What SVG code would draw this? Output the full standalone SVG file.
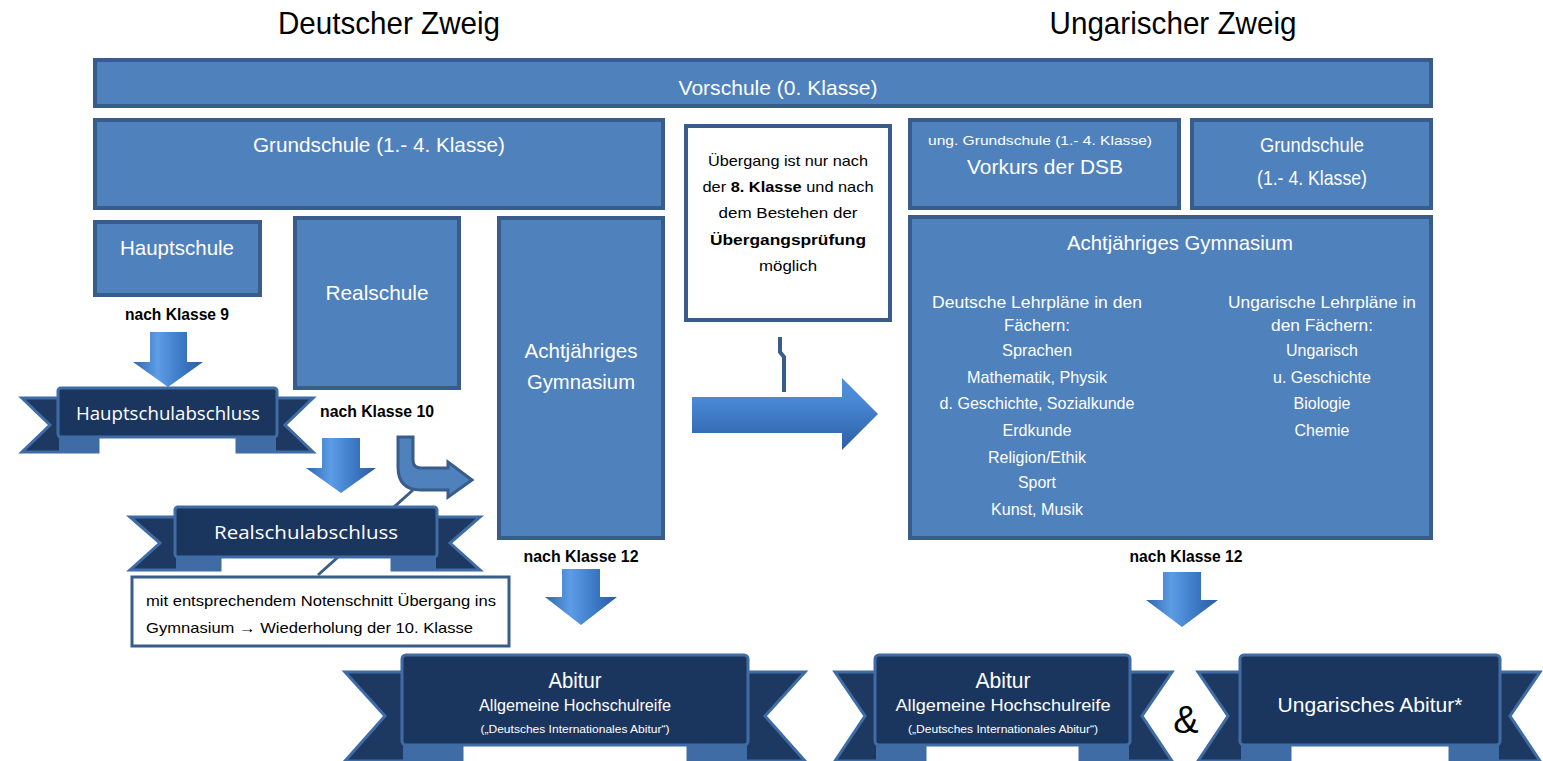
<svg xmlns="http://www.w3.org/2000/svg" width="1543" height="761" viewBox="0 0 1543 761">
<defs>
<style>
.box{fill:#4f81bd;stroke:#385d8a;stroke-width:4}
.wbox{fill:#ffffff;stroke:#385d8a;stroke-width:4}
.rb{fill:#1b365e;stroke:#3f6ca5;stroke-width:3}
.tail{fill:#1d3961;stroke:#3f6ca5;stroke-width:3;stroke-linejoin:miter}
.fold{fill:#3f6ca5}
.t{font-family:"Liberation Sans Narrow","Liberation Sans",Arial,sans-serif;fill:#ffffff;text-anchor:middle}
.k{fill:#000000}
.o{font-family:"Open Sans","Noto Sans",sans-serif;fill:#ffffff;text-anchor:middle}
.line{fill:none;stroke:#385d8a;stroke-width:4}
</style>
<linearGradient id="gd" x1="0" y1="0" x2="1" y2="0">
<stop offset="0" stop-color="#2f66ad"/>
<stop offset="0.35" stop-color="#5c9de6"/>
<stop offset="0.7" stop-color="#3b78c5"/>
<stop offset="1" stop-color="#2a5c9e"/>
</linearGradient>
<linearGradient id="gr" x1="0" y1="0" x2="0" y2="1">
<stop offset="0" stop-color="#4f8fdb"/>
<stop offset="0.3" stop-color="#4a88d6"/>
<stop offset="1" stop-color="#2b5fa3"/>
</linearGradient>
</defs>
<rect width="1543" height="761" fill="#ffffff"/>

<g id="titles">
<text class="t k" x="389" y="34" font-size="32" textLength="222" lengthAdjust="spacingAndGlyphs">Deutscher Zweig</text>
<text class="t k" x="1173" y="34" font-size="32" textLength="247" lengthAdjust="spacingAndGlyphs">Ungarischer Zweig</text>
</g>

<g id="connectors">
<path d="M150,332 H187 V362 H203 L168,387 L133,362 H150 Z" fill="url(#gd)"/>
<path d="M322,438 H360 V468 H376 L341,493 L306,468 H322 Z" fill="url(#gd)"/>
<path d="M562,569 H600 V597 H617 L581,625 L545,597 H562 Z" fill="url(#gd)"/>
<path d="M1163,572 H1201 V600 H1218 L1182,627 L1146,600 H1163 Z" fill="url(#gd)"/>
<path d="M692,397 H842 V378 L878,414 L842,450 V433 H692 Z" fill="url(#gr)"/>
<path d="M780,337 V352 L784,357 V392" class="line"/>
<line x1="413" y1="490" x2="318" y2="575" stroke="#385d8a" stroke-width="3"/>
<path d="M398,437 H413 V460 Q413,468 421,468 H448 V462 L472,480 L448,497 V490 H421 Q398,490 398,467 Z" fill="#4f81bd" stroke="#385d8a" stroke-width="3"/>
</g>

<g id="vorschule">
<rect class="box" x="95" y="60" width="1336" height="46"/>
<text class="t" x="778" y="95" font-size="21" textLength="199" lengthAdjust="spacingAndGlyphs">Vorschule (0. Klasse)</text>
</g>

<g id="grundschule-de">
<rect class="box" x="95" y="120" width="568" height="88"/>
<text class="t" x="379" y="152" font-size="21" textLength="252" lengthAdjust="spacingAndGlyphs">Grundschule (1.- 4. Klasse)</text>
</g>

<g id="uebergang">
<rect class="wbox" x="686" y="126" width="204" height="194"/>
<text class="t k" x="788" y="166" font-size="15" textLength="160" lengthAdjust="spacingAndGlyphs">Übergang ist nur nach</text>
<text class="t k" x="788" y="192" font-size="15" textLength="171" lengthAdjust="spacingAndGlyphs">der <tspan font-weight="bold">8. Klasse</tspan> und nach</text>
<text class="t k" x="788" y="218" font-size="15" textLength="139" lengthAdjust="spacingAndGlyphs">dem Bestehen der</text>
<text class="t k" x="788" y="245" font-size="15" font-weight="bold" textLength="156" lengthAdjust="spacingAndGlyphs">Übergangsprüfung</text>
<text class="t k" x="788" y="271" font-size="15" textLength="58" lengthAdjust="spacingAndGlyphs">möglich</text>
</g>

<g id="vorkurs">
<rect class="box" x="910" y="120" width="269" height="88"/>
<text class="t" x="1040" y="145" font-size="13" textLength="224" lengthAdjust="spacingAndGlyphs">ung. Grundschule (1.- 4. Klasse)</text>
<text class="t" x="1045" y="174" font-size="21" textLength="156" lengthAdjust="spacingAndGlyphs">Vorkurs der DSB</text>
</g>

<g id="grundschule-hu">
<rect class="box" x="1192" y="120" width="239" height="88"/>
<text class="t" x="1312" y="152" font-size="21" textLength="104" lengthAdjust="spacingAndGlyphs">Grundschule</text>
<text class="t" x="1312" y="185" font-size="21" textLength="110" lengthAdjust="spacingAndGlyphs">(1.- 4. Klasse)</text>
</g>

<g id="gymnasium-hu">
<rect class="box" x="910" y="217" width="521" height="321"/>
<text class="t" x="1180" y="250" font-size="21" textLength="226" lengthAdjust="spacingAndGlyphs">Achtjähriges Gymnasium</text>
<g font-size="17">
<text class="t" x="1037" y="308" textLength="210" lengthAdjust="spacingAndGlyphs">Deutsche Lehrpläne in den</text>
<text class="t" x="1037" y="331" textLength="66" lengthAdjust="spacingAndGlyphs">Fächern:</text>
<text class="t" x="1037" y="356" textLength="70" lengthAdjust="spacingAndGlyphs">Sprachen</text>
<text class="t" x="1037" y="383" textLength="140" lengthAdjust="spacingAndGlyphs">Mathematik, Physik</text>
<text class="t" x="1037" y="409" textLength="195" lengthAdjust="spacingAndGlyphs">d. Geschichte, Sozialkunde</text>
<text class="t" x="1037" y="436" textLength="69" lengthAdjust="spacingAndGlyphs">Erdkunde</text>
<text class="t" x="1037" y="463" textLength="98" lengthAdjust="spacingAndGlyphs">Religion/Ethik</text>
<text class="t" x="1037" y="488" textLength="38" lengthAdjust="spacingAndGlyphs">Sport</text>
<text class="t" x="1037" y="515" textLength="92" lengthAdjust="spacingAndGlyphs">Kunst, Musik</text>
<text class="t" x="1322" y="308" textLength="188" lengthAdjust="spacingAndGlyphs">Ungarische Lehrpläne in</text>
<text class="t" x="1322" y="331" textLength="102" lengthAdjust="spacingAndGlyphs">den Fächern:</text>
<text class="t" x="1322" y="356" textLength="72" lengthAdjust="spacingAndGlyphs">Ungarisch</text>
<text class="t" x="1322" y="383" textLength="98" lengthAdjust="spacingAndGlyphs">u. Geschichte</text>
<text class="t" x="1322" y="409" textLength="57" lengthAdjust="spacingAndGlyphs">Biologie</text>
<text class="t" x="1322" y="436" textLength="55" lengthAdjust="spacingAndGlyphs">Chemie</text>
</g>
</g>

<g id="hauptschule">
<rect class="box" x="95" y="222" width="165" height="73"/>
<text class="t" x="177" y="255" font-size="21" textLength="114" lengthAdjust="spacingAndGlyphs">Hauptschule</text>
<text class="t k" x="177" y="320" font-size="16" font-weight="bold" textLength="104" lengthAdjust="spacingAndGlyphs">nach Klasse 9</text>
</g>

<g id="realschule">
<rect class="box" x="295" y="218" width="164" height="170"/>
<text class="t" x="377" y="300" font-size="21" textLength="103" lengthAdjust="spacingAndGlyphs">Realschule</text>
<text class="t k" x="377" y="417" font-size="16" font-weight="bold" textLength="114" lengthAdjust="spacingAndGlyphs">nach Klasse 10</text>
</g>

<g id="gymnasium-de">
<rect class="box" x="499" y="218" width="164" height="320"/>
<text class="t" x="581" y="358" font-size="21" textLength="113" lengthAdjust="spacingAndGlyphs">Achtjähriges</text>
<text class="t" x="581" y="389" font-size="21" textLength="108" lengthAdjust="spacingAndGlyphs">Gymnasium</text>
<text class="t k" x="581" y="562" font-size="16" font-weight="bold" textLength="115" lengthAdjust="spacingAndGlyphs">nach Klasse 12</text>
</g>

<g id="nach12-hu">
<text class="t k" x="1186" y="562" font-size="16" font-weight="bold" textLength="113" lengthAdjust="spacingAndGlyphs">nach Klasse 12</text>
</g>

<g id="hauptschulabschluss">
<polygon class="tail" points="22,398 98,398 98,452 22,452 50,425"/>
<polygon class="tail" points="313,398 237,398 237,452 313,452 285,425"/>
<rect class="fold" x="59" y="437" width="39" height="15"/>
<rect class="fold" x="237" y="437" width="39" height="15"/>
<rect class="rb" x="58" y="388" width="219" height="49" rx="3"/>
<text class="o" x="168" y="420" font-size="18" textLength="184" lengthAdjust="spacingAndGlyphs">Hauptschulabschluss</text>
</g>

<g id="realschulabschluss">
<polygon class="tail" points="130,517 220,517 220,570 130,570 160,543"/>
<polygon class="tail" points="480,517 392,517 392,570 480,570 450,543"/>
<rect class="fold" x="176" y="557" width="44" height="13"/>
<rect class="fold" x="392" y="557" width="44" height="13"/>
<rect class="rb" x="175" y="507" width="262" height="50" rx="3"/>
<text class="o" x="306" y="539" font-size="19" textLength="184" lengthAdjust="spacingAndGlyphs">Realschulabschluss</text>
</g>

<g id="hinweis">
<rect x="132" y="577" width="377" height="69" fill="#ffffff" stroke="#385d8a" stroke-width="3"/>
<text x="146" y="606" font-family="&quot;Liberation Sans Narrow&quot;,&quot;Liberation Sans&quot;,Arial,sans-serif" font-size="15" fill="#000" textLength="350" lengthAdjust="spacingAndGlyphs">mit entsprechendem Notenschnitt Übergang ins</text>
<text x="146" y="633" font-family="&quot;Liberation Sans Narrow&quot;,&quot;Liberation Sans&quot;,Arial,sans-serif" font-size="15" fill="#000" textLength="327" lengthAdjust="spacingAndGlyphs">Gymnasium → Wiederholung der 10. Klasse</text>
</g>

<g id="abitur-de">
<polygon class="tail" points="345,672 462,672 462,761 345,761 385,716"/>
<polygon class="tail" points="805,672 688,672 688,761 805,761 765,716"/>
<rect class="fold" x="403" y="745" width="59" height="16"/>
<rect class="fold" x="688" y="745" width="59" height="16"/>
<rect class="rb" x="402" y="655" width="346" height="90" rx="4"/>
<text class="t" x="575" y="688" font-size="22" textLength="53" lengthAdjust="spacingAndGlyphs">Abitur</text>
<text class="t" x="575" y="711" font-size="16" textLength="192" lengthAdjust="spacingAndGlyphs">Allgemeine Hochschulreife</text>
<text class="t" x="575" y="733" font-size="10" textLength="189" lengthAdjust="spacingAndGlyphs">(„Deutsches Internationales Abitur“)</text>
</g>

<g id="abitur-hu">
<polygon class="tail" points="835,672 925,672 925,761 835,761 865,716"/>
<polygon class="tail" points="1172,672 1080,672 1080,761 1172,761 1142,716"/>
<rect class="fold" x="876" y="745" width="49" height="16"/>
<rect class="fold" x="1080" y="745" width="49" height="16"/>
<rect class="rb" x="875" y="655" width="255" height="90" rx="4"/>
<text class="t" x="1003" y="688" font-size="22" textLength="55" lengthAdjust="spacingAndGlyphs">Abitur</text>
<text class="t" x="1003" y="711" font-size="17" textLength="215" lengthAdjust="spacingAndGlyphs">Allgemeine Hochschulreife</text>
<text class="t" x="1003" y="733" font-size="10" textLength="190" lengthAdjust="spacingAndGlyphs">(„Deutsches Internationales Abitur“)</text>
</g>

<g id="und">
<text x="1186" y="733" font-family="&quot;Liberation Sans&quot;,Arial,sans-serif" font-size="38" fill="#000" text-anchor="middle">&amp;</text>
</g>

<g id="ungarisches-abitur">
<polygon class="tail" points="1198,672 1290,672 1290,761 1198,761 1228,716"/>
<polygon class="tail" points="1540,672 1450,672 1450,761 1540,761 1510,716"/>
<rect class="fold" x="1241" y="745" width="49" height="16"/>
<rect class="fold" x="1450" y="745" width="49" height="16"/>
<rect class="rb" x="1240" y="655" width="260" height="90" rx="4"/>
<text class="t" x="1370" y="712" font-size="20" textLength="185" lengthAdjust="spacingAndGlyphs">Ungarisches Abitur*</text>
</g>
</svg>
